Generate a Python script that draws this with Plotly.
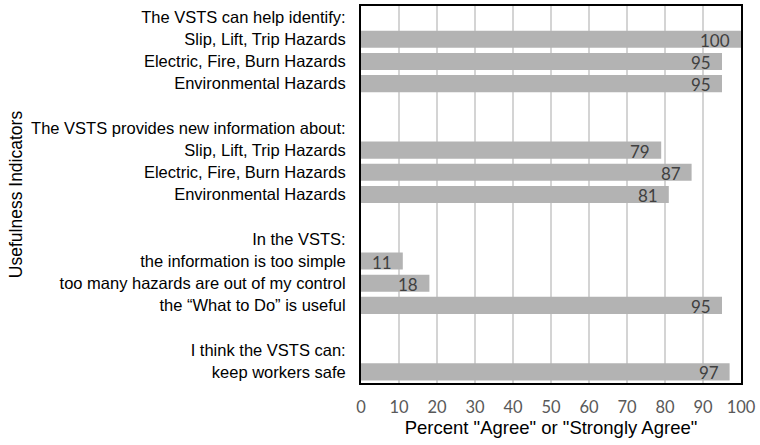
import plotly.graph_objects as go

# rows from top to bottom; header/blank rows have no value
row_labels = [
    'The VSTS can help identify:',
    'Slip, Lift, Trip Hazards',
    'Electric, Fire, Burn Hazards',
    'Environmental Hazards',
    '',
    'The VSTS provides new information about:',
    'Slip, Lift, Trip Hazards',
    'Electric, Fire, Burn Hazards',
    'Environmental Hazards',
    '',
    'In the VSTS:',
    'the information is too simple',
    'too many hazards are out of my control',
    'the \u201cWhat to Do\u201d is useful',
    '',
    'I think the VSTS can:',
    'keep workers safe',
]
row_values = [None, 100, 95, 95, None, None, 79, 87, 81, None, None, 11, 18, 95, None, None, 97]

x_ticks = list(range(0, 101, 10))

rows = list(range(len(row_labels)))

fig = go.Figure()
fig.add_trace(go.Bar(
    x=row_values,
    y=rows,
    orientation='h',
    width=0.77,
    marker=dict(color='#b3b3b3', line=dict(width=0)),
    showlegend=False,
))

# value labels sit inside the bar end
for r, v in zip(rows, row_values):
    if v is None:
        continue
    fig.add_annotation(x=v, y=r, text=str(v), showarrow=False,
                       xanchor='right', yanchor='middle', xshift=-9, yshift=-1,
                       font=dict(family='Lato, Open Sans, sans-serif', size=17, color='#404040'))

fig.update_layout(
    width=760, height=445,
    margin=dict(l=361, r=17, t=4, b=62),
    plot_bgcolor='white', paper_bgcolor='white',
    font=dict(family='Liberation Sans, Arial, sans-serif', color='black'),
)

fig.update_xaxes(
    range=[0, 100],
    tickvals=x_ticks,
    tickfont=dict(family='Lato, Open Sans, sans-serif', size=16.5, color='#595959'),
    showgrid=True, gridcolor='#d4d4d4', gridwidth=1.5,
    showline=True, linecolor='black', linewidth=2, mirror=True,
    zeroline=False,
    ticks='', ticklabelstandoff=8,
    title=dict(text='Percent "Agree" or "Strongly Agree"',
               font=dict(size=18.5, color='black'), standoff=5),
)
fig.update_yaxes(
    range=[len(row_labels) - 0.5, -0.5],
    tickvals=rows,
    ticktext=row_labels,
    tickfont=dict(size=16.5, color='black'),
    showgrid=False,
    showline=True, linecolor='black', linewidth=2, mirror=True,
    zeroline=False,
    ticks='', ticklabelstandoff=10,
    title=dict(text='Usefulness Indicators', font=dict(size=17.5, color='black'), standoff=4),
)

fig.write_html("out.html", config={'displayModeBar': False},
               post_script="document.body.style.margin='0';")
